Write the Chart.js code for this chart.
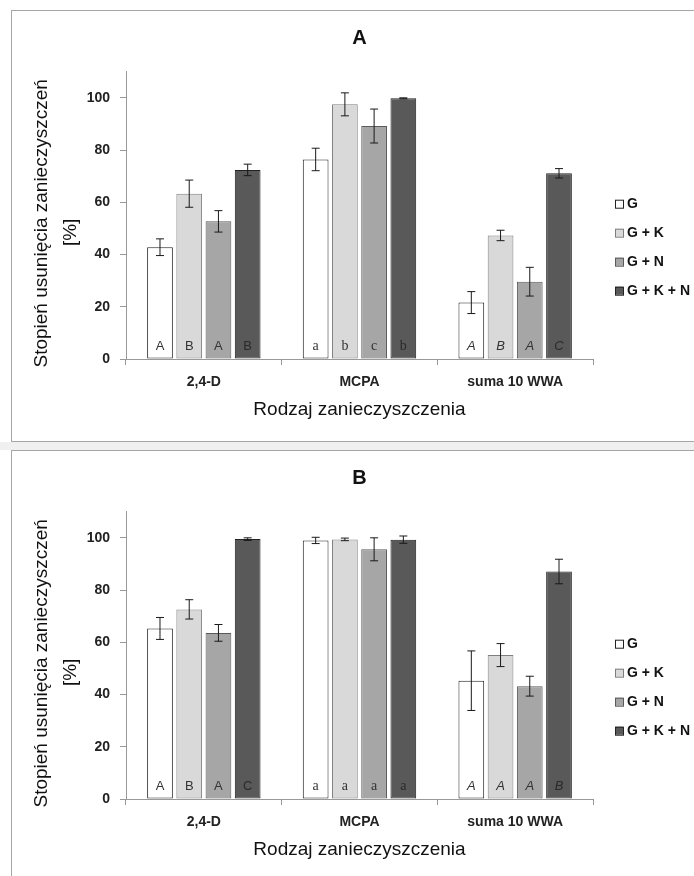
<!DOCTYPE html>
<html>
<head>
<meta charset="utf-8">
<script src="https://cdn.jsdelivr.net/npm/chart.js@4.4.1/dist/chart.umd.min.js"></script>
<style>
  html, body { margin: 0; padding: 0; background: #fff; overflow: hidden; width: 694px; height: 876px; }
  .panel { position: absolute; left: 11px; width: 700px; height: 432px; box-sizing: border-box; border: 1px solid #a6a6a6; background: #fff; }
  .panel canvas { position: absolute; left: 0; top: 0; }
  #gap { position: absolute; left: 0; top: 442px; width: 694px; height: 8px; background: #f0f0f0; }
</style>
</head>
<body>
<div id="gap"></div>
<div class="panel" style="top:10px"><canvas id="chartA" width="682" height="430"></canvas></div>
<div class="panel" style="top:450px"><canvas id="chartB" width="682" height="430"></canvas></div>
<script>
// dane
const categories = ['2,4-D', 'MCPA', 'suma 10 WWA'];
const seriesNames = ['G', 'G + K', 'G + N', 'G + K + N'];
const yTicks = [0, 20, 40, 60, 80, 100];
const yTitle = ['Stopień usunięcia zanieczyszczeń', '[%]'];

// A
const aG = [42.8, 76.4, 21.6];
const aGK = [63.3, 97.5, 47.3];
const aGN = [52.7, 89.2, 29.6];
const aGKN = [72.4, 99.8, 71.1];
const aGErr = [3.2, 4.3, 4.2];
const aGKErr = [5.2, 4.4, 2.0];
const aGNErr = [4.1, 6.5, 5.5];
const aGKNErr = [2.2, 0.2, 1.8];
const aGLet = ['A', 'a', 'A'];
const aGKLet = ['B', 'b', 'B'];
const aGNLet = ['A', 'c', 'A'];
const aGKNLet = ['B', 'b', 'C'];

// B
const bG = [65.3, 99.0, 45.3];
const bGK = [72.6, 99.4, 55.1];
const bGN = [63.6, 95.6, 43.2];
const bGKN = [99.5, 99.3, 87.1];
const bGErr = [4.2, 1.2, 11.4];
const bGKErr = [3.7, 0.5, 4.4];
const bGNErr = [3.2, 4.4, 3.8];
const bGKNErr = [0.5, 1.4, 4.7];
const bGLet = ['A', 'a', 'A'];
const bGKLet = ['B', 'a', 'A'];
const bGNLet = ['A', 'a', 'A'];
const bGKNLet = ['C', 'a', 'B'];

const fills = ['#ffffff', '#d9d9d9', '#a6a6a6', '#595959'];
const borders = ['#222222', '#7f7f7f', '#5a5a5a', '#222222'];
const FONT = "'Liberation Sans', Arial, sans-serif";

// slupki bledow, litery w slupkach, tytul osi Y, legenda
const extrasPlugin = {
  id: 'extras',
  afterDatasetsDraw(chart) {
    const ctx = chart.ctx;
    const y = chart.scales.y;
    const base = y.getPixelForValue(0);
    chart.data.datasets.forEach((ds, di) => {
      const meta = chart.getDatasetMeta(di);
      meta.data.forEach((bar, i) => {
        const v = ds.data[i], e = ds.errors[i];
        const top = y.getPixelForValue(v + e), bot = y.getPixelForValue(v - e);
        ctx.save();
        ctx.strokeStyle = '#1a1a1a';
        ctx.lineWidth = 1;
        ctx.beginPath();
        ctx.moveTo(bar.x, top); ctx.lineTo(bar.x, bot);
        ctx.moveTo(bar.x - 4, top); ctx.lineTo(bar.x + 4, top);
        ctx.moveTo(bar.x - 4, bot); ctx.lineTo(bar.x + 4, bot);
        ctx.stroke();
        if (i === 0) ctx.font = '13px ' + FONT;
        else if (i === 1) ctx.font = "14px 'Liberation Serif', serif";
        else ctx.font = 'italic 13px ' + FONT;
        ctx.fillStyle = di === 3 ? '#2a2a2a' : '#333';
        ctx.textAlign = 'center';
        ctx.textBaseline = 'middle';
        ctx.fillText(ds.letters[i], bar.x, base - 13);
        ctx.restore();
      });
    });
  },
  afterDraw(chart) {
    const ctx = chart.ctx;
    const area = chart.chartArea;
    const mid = (area.top + area.bottom) / 2;
    // tytul osi Y (dwie linie)
    ctx.save();
    ctx.fillStyle = '#111';
    ctx.font = '19px ' + FONT;
    ctx.textAlign = 'center';
    ctx.textBaseline = 'middle';
    ctx.translate(30, mid + 8);
    ctx.rotate(-Math.PI / 2);
    ctx.fillText(yTitle[0], 0, 0);
    ctx.restore();
    ctx.save();
    ctx.fillStyle = '#111';
    ctx.font = '19px ' + FONT;
    ctx.textAlign = 'center';
    ctx.textBaseline = 'middle';
    ctx.translate(59, mid + 17);
    ctx.rotate(-Math.PI / 2);
    ctx.fillText(yTitle[1], 0, 0);
    ctx.restore();
    // legenda
    chart.data.datasets.forEach((ds, di) => {
      const cy = area.top + 132 + di * 29;
      const x = area.right + 22;
      ctx.save();
      ctx.fillStyle = ds.backgroundColor;
      ctx.fillRect(x, cy - 4, 8, 8);
      ctx.strokeStyle = ds.borderColor;
      ctx.lineWidth = 1;
      ctx.strokeRect(x + 0.5, cy - 3.5, 8, 8);
      ctx.fillStyle = '#111';
      ctx.font = 'bold 14px ' + FONT;
      ctx.textBaseline = 'middle';
      ctx.fillText(ds.label, x + 12, cy);
      ctx.restore();
    });
  }
};

function makeChart(id, title, vals, errs, lets) {
  new Chart(document.getElementById(id), {
    type: 'bar',
    data: {
      labels: categories,
      datasets: seriesNames.map((name, k) => ({
        label: name,
        data: vals[k],
        errors: errs[k],
        letters: lets[k],
        backgroundColor: fills[k],
        borderColor: borders[k],
        borderWidth: 1,
        borderSkipped: false,
        categoryPercentage: 0.751,
        barPercentage: 0.88
      }))
    },
    options: {
      responsive: false,
      animation: false,
      devicePixelRatio: 1,
      layout: { padding: { left: 0, right: 101, top: 0, bottom: 0 } },
      plugins: {
        legend: { display: false },
        tooltip: { enabled: false },
        title: {
          display: true, text: title, color: '#111', fullSize: false,
          font: { family: FONT, size: 20, weight: 'bold' },
          padding: { top: 15, bottom: 21.7 }
        }
      },
      scales: {
        x: {
          offset: true,
          grid: { display: true, offset: true, drawOnChartArea: false, drawTicks: true, tickLength: 6, color: '#999' },
          border: { color: '#999' },
          ticks: { color: '#222', padding: 8.3, font: { family: FONT, size: 14, weight: 'bold' } },
          title: {
            display: true, text: 'Rodzaj zanieczyszczenia', color: '#111',
            font: { family: FONT, size: 19 }, padding: { top: 0, bottom: 20 }
          },
          afterFit(s) { s.height = 82; }
        },
        y: {
          min: 0, max: 110,
          afterBuildTicks(s) { s.ticks = yTicks.map(v => ({ value: v })); },
          grid: { drawOnChartArea: false, drawTicks: true, tickLength: 6, color: '#999' },
          border: { color: '#999' },
          ticks: { color: '#222', padding: 10, font: { family: FONT, size: 14, weight: 'bold' } },
          title: { display: false },
          afterFit(s) { s.width = 114; }
        }
      }
    },
    plugins: [extrasPlugin]
  });
}

makeChart('chartA', 'A', [aG, aGK, aGN, aGKN], [aGErr, aGKErr, aGNErr, aGKNErr], [aGLet, aGKLet, aGNLet, aGKNLet]);
makeChart('chartB', 'B', [bG, bGK, bGN, bGKN], [bGErr, bGKErr, bGNErr, bGKNErr], [bGLet, bGKLet, bGNLet, bGKNLet]);
</script>
</body>
</html>
